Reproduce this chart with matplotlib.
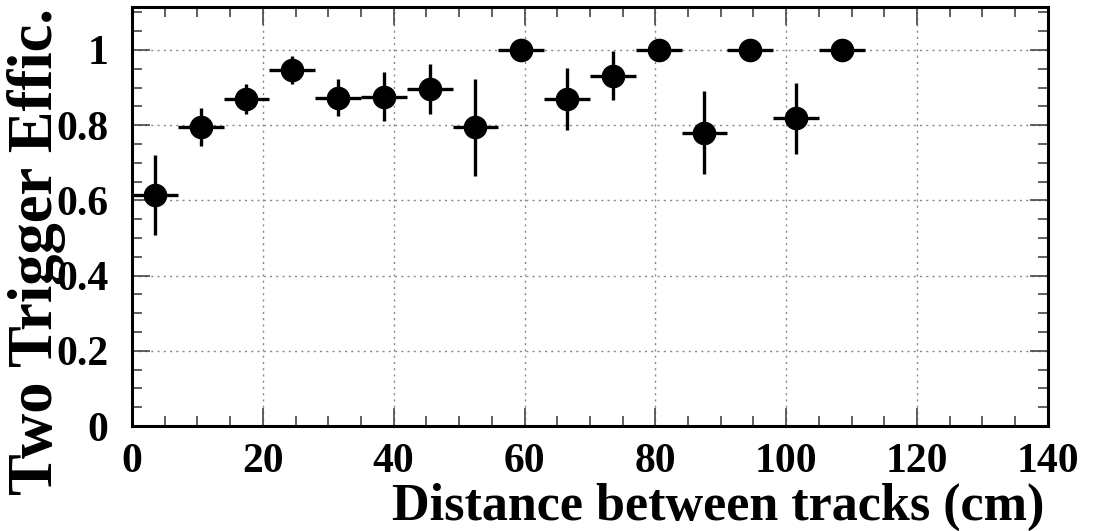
import numpy as np
import matplotlib.pyplot as plt
from matplotlib.ticker import MultipleLocator

# bin centres (cm), efficiency and errors
distance = [3.5, 10.5, 17.5, 24.5, 31.5, 38.5, 45.5, 52.5,
            59.5, 66.5, 73.5, 80.5, 87.5, 94.5, 101.5, 108.5]
bin_half = [3.5] * 16
effic = [0.615, 0.795, 0.870, 0.946, 0.873, 0.876, 0.896, 0.794,
         1.0, 0.870, 0.931, 1.0, 0.780, 1.0, 0.818, 1.0]
effic_err = [0.106, 0.050, 0.040, 0.037, 0.050, 0.066, 0.067, 0.128,
             0.0, 0.083, 0.065, 0.0, 0.110, 0.0, 0.094, 0.0]

plt.rcParams['font.family'] = ['Liberation Serif', 'DejaVu Serif']
plt.rcParams['font.weight'] = 'bold'

fig = plt.figure(figsize=(10.95, 5.31), dpi=100)
ax = fig.add_axes([0.1205, 0.1977, 0.8365, 0.7891])

ax.errorbar(distance, effic, xerr=bin_half, yerr=effic_err, fmt='o',
            color='black', markersize=16, elinewidth=2.4, capsize=0)

ax.set_xlim(0, 140)
ax.set_ylim(0, 1.114)
ax.xaxis.set_major_locator(MultipleLocator(20))
ax.xaxis.set_minor_locator(MultipleLocator(5))
ax.yaxis.set_minor_locator(MultipleLocator(0.05))
ax.set_yticks([0, 0.2, 0.4, 0.6, 0.8, 1.0])
ax.set_yticklabels(['0', '0.2', '0.4', '0.6', '0.8', '1'])

# ROOT-like frame: dotted grid, inward ticks on all four sides
ax.grid(True, which='major', linestyle=(0, (1.5, 3)), color='#888888', linewidth=1.0)
ax.tick_params(which='both', direction='in', top=True, right=True, width=1.2, color='#444444')
ax.tick_params(which='major', length=13)
ax.tick_params(which='minor', length=7)
ax.tick_params(axis='x', which='major', labelsize=30, pad=12)
ax.tick_params(axis='y', which='major', labelsize=30, pad=17)
for spine in ax.spines.values():
    spine.set_linewidth(2.2)

fig.text(0.954, 0.0, 'Distance between tracks (cm)', fontsize=37.5,
         fontweight='bold', ha='right', va='bottom')
fig.text(0.033, 0.985, 'Two Trigger Effic.', fontsize=45, fontweight='bold',
         rotation=90, ha='center', va='top')

fig.savefig('out.png', dpi=100)
